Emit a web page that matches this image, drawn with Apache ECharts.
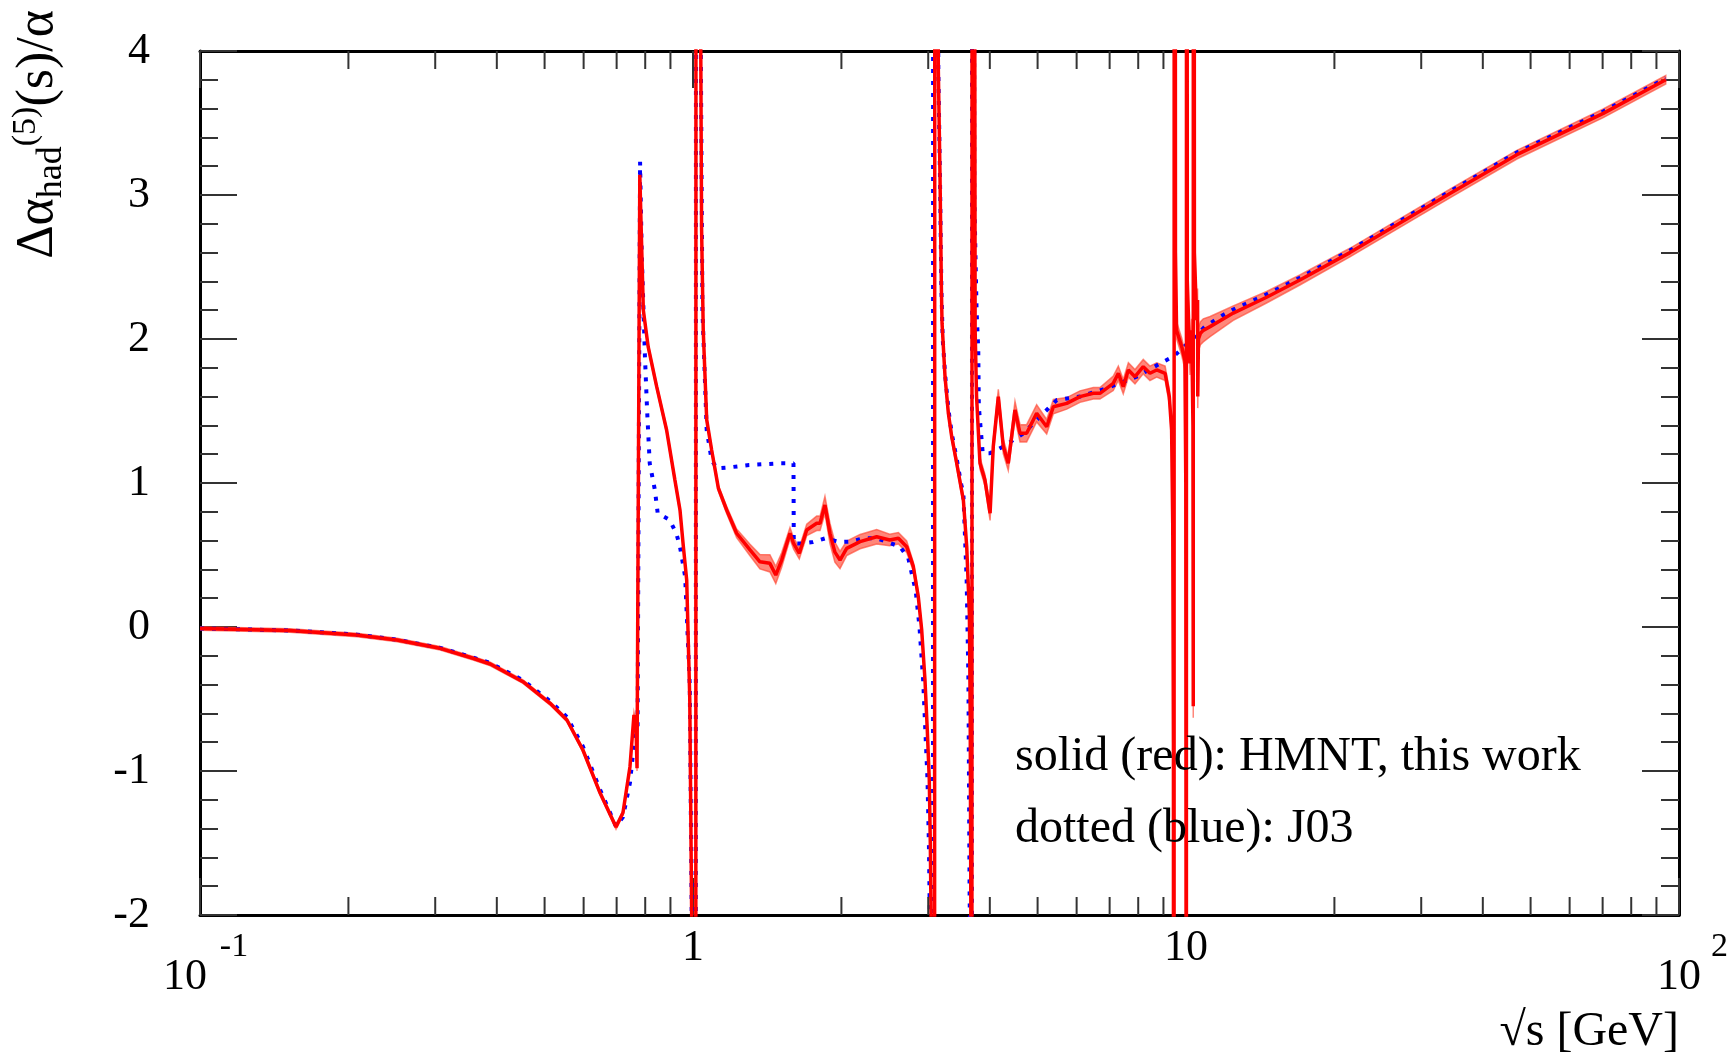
<!DOCTYPE html>
<html>
<head>
<meta charset="utf-8">
<script src="https://cdn.jsdelivr.net/npm/echarts@6/dist/echarts.min.js"></script>
<style>
html,body{margin:0;padding:0;background:#ffffff;}
#chart{width:1733px;height:1054px;}
</style>
</head>
<body>
<div id="chart"></div>
<script>
// ---------------- data ----------------
// HMNT (this work), solid red line with error band
const redX = [0.100,0.152,0.208,0.251,0.307,0.358,0.388,0.452,0.513,0.555,0.598,0.648,0.698,0.721,0.745,0.759,0.766,0.770,0.780,0.786,0.793,0.811,0.844,0.884,0.919,0.941,0.956,0.971,0.985,0.995,1.012,1.015,1.036,1.041,1.049,1.066,1.091,1.126,1.170,1.226,1.305,1.367,1.432,1.472,1.513,1.573,1.600,1.643,1.701,1.782,1.810,1.852,1.896,1.940,1.987,2.050,2.182,2.358,2.506,2.610,2.713,2.799,2.864,2.910,2.955,2.987,3.015,3.030,3.050,3.085,3.098,3.140,3.145,3.170,3.190,3.200,3.245,3.296,3.348,3.427,3.505,3.535,3.591,3.636,3.650,3.665,3.675,3.685,3.728,3.735,3.760,3.820,3.910,4.005,4.065,4.162,4.260,4.360,4.499,4.606,4.751,4.978,5.217,5.382,5.729,6.095,6.486,6.690,7.120,7.290,7.460,7.640,7.880,8.190,8.450,8.720,9.070,9.250,9.350,9.400,9.430,9.450,9.470,9.520,9.570,9.800,9.950,9.990,10.005,10.015,10.025,10.060,10.190,10.270,10.330,10.345,10.352,10.400,10.510,10.555,10.565,10.600,10.700,10.840,11.190,12.470,14.570,17.020,21.500,34.300,46.900,70.200,94.000];
const redY = [-0.010,-0.025,-0.055,-0.090,-0.148,-0.217,-0.257,-0.380,-0.530,-0.646,-0.854,-1.153,-1.389,-1.290,-0.970,-0.610,-0.670,-0.980,3.140,2.700,2.200,1.947,1.669,1.368,1.020,0.813,0.558,0.326,-0.500,-2.200,-20,20,4.300,2.760,2.060,1.440,1.229,0.963,0.813,0.651,0.535,0.453,0.442,0.361,0.465,0.651,0.580,0.512,0.674,0.720,0.720,0.847,0.650,0.520,0.465,0.546,0.593,0.627,0.604,0.616,0.558,0.419,0.210,-0.021,-0.368,-0.715,-1.060,-1.520,-2.500,-20,20,4.500,3.870,3.127,2.360,2.110,1.738,1.484,1.322,1.137,0.951,0.882,0.558,0.095,-0.600,-2.500,-20,20,4.500,2.060,1.600,1.137,1.020,0.790,1.253,1.600,1.253,1.137,1.507,1.345,1.345,1.484,1.391,1.530,1.553,1.600,1.623,1.623,1.692,1.762,1.669,1.785,1.738,1.808,1.762,1.785,1.762,1.600,1.368,0.700,-0.800,-20,20,2.600,2.060,1.947,1.850,1.000,-2.500,-20,20,2.400,1.830,2.060,1.400,-0.550,20,2.600,2.130,2.270,1.600,2.000,2.040,2.060,2.086,2.180,2.290,2.410,2.600,3.010,3.280,3.567,3.800];
const redErr = [0.012,0.012,0.012,0.012,0.012,0.012,0.012,0.012,0.012,0.012,0.015,0.015,0.015,0.015,0.015,0.02,0.02,0.02,0.02,0.02,0.02,0.02,0.02,0.02,0.02,0.02,0.02,0.02,0.02,0.02,0.02,0.02,0.02,0.02,0.02,0.02,0.02,0.02,0.025,0.03,0.04,0.05,0.06,0.06,0.05,0.04,0.04,0.04,0.04,0.05,0.05,0.06,0.07,0.07,0.06,0.05,0.05,0.05,0.04,0.04,0.04,0.03,0.03,0.03,0.03,0.03,0.03,0.03,0.03,0.03,0.03,0.03,0.03,0.03,0.03,0.03,0.03,0.03,0.03,0.03,0.03,0.03,0.03,0.03,0.03,0.03,0.03,0.03,0.04,0.04,0.04,0.04,0.04,0.05,0.05,0.05,0.05,0.05,0.06,0.06,0.06,0.06,0.05,0.05,0.04,0.04,0.04,0.04,0.05,0.05,0.05,0.05,0.05,0.05,0.05,0.05,0.05,0.05,0.05,0.05,0.05,0.05,0.05,0.06,0.06,0.06,0.06,0.06,0.06,0.06,0.06,0.08,0.08,0.08,0.08,0.08,0.08,0.08,0.08,0.08,0.08,0.08,0.08,0.08,0.07,0.05,0.04,0.035,0.03,0.03,0.03,0.03,0.03];

// J03, dotted blue line
const blueX = [0.100,0.152,0.208,0.251,0.307,0.358,0.388,0.452,0.513,0.555,0.598,0.648,0.698,0.721,0.745,0.762,0.772,0.778,0.781,0.787,0.799,0.807,0.817,0.837,0.848,0.897,0.925,0.941,0.964,0.985,0.995,1.012,1.015,1.036,1.045,1.066,1.091,1.117,1.188,1.300,1.505,1.599,1.601,1.658,1.750,1.852,1.987,2.088,2.216,2.358,2.630,2.734,2.830,2.880,2.930,2.960,2.990,3.010,3.030,3.065,3.072,3.140,3.145,3.170,3.190,3.210,3.245,3.300,3.350,3.430,3.500,3.535,3.590,3.620,3.640,3.660,3.675,3.685,3.720,3.760,3.790,3.800,3.870,4.000,4.260,4.680,5.057,5.467,6.095,6.900,7.940,8.990,9.450,10.300,10.930,11.900,12.470,14.570,17.020,21.500,34.300,46.900,70.200,94.000];
const blueY = [-0.010,-0.024,-0.053,-0.088,-0.145,-0.212,-0.250,-0.370,-0.515,-0.625,-0.830,-1.130,-1.385,-1.320,-1.080,-0.760,-0.700,-0.700,3.230,2.600,1.877,1.507,1.137,0.951,0.790,0.743,0.650,0.558,0.350,-0.400,-2.200,-20,20,4.300,2.200,1.368,1.160,1.102,1.109,1.125,1.137,1.137,0.580,0.580,0.590,0.615,0.590,0.593,0.616,0.616,0.558,0.477,0.250,0.000,-0.370,-0.720,-1.060,-1.520,-2.300,-20,20,4.500,3.870,3.100,2.360,2.000,1.760,1.500,1.340,1.160,0.990,0.930,0.326,-0.368,-1.870,-2.500,-20,20,3.000,2.200,1.924,1.530,1.206,1.206,1.253,1.345,1.460,1.576,1.600,1.658,1.738,1.842,1.880,2.000,2.086,2.167,2.205,2.310,2.425,2.615,3.025,3.295,3.580,3.810];

// axes
const xMin = 0.1, xMax = 100;
const yMin = -2, yMax = 4, yStep = 1;
const xMinorTicks = [0.2,0.3,0.4,0.5,0.6,0.7,0.8,0.9,2,3,4,5,6,7,8,9,20,30,40,50,60,70,80,90];

const legendLines = ['solid (red): HMNT, this work', 'dotted (blue): J03'];
const xTitle = '\u221As [GeV]';

// ---------------- chart ----------------
const FONT = '"Liberation Serif", "DejaVu Serif", serif';
const chart = echarts.init(document.getElementById('chart'), null, {renderer: 'canvas'});

const redData = redX.map((x, i) => [x, redY[i]]);
const blueData = blueX.map((x, i) => [x, blueY[i]]);

const frame = {show: true, onZero: false, lineStyle: {color: '#000', width: 3}};
const tickStyle = {color: '#333', width: 2};

function xLabel(v) {
  const e = Math.round(Math.log10(v));
  if (e === 0) return '{p|1}';
  if (e === 1) return '{p|10}';
  return e < 0 ? '{s1|' + e + '}\n{b1|10}' : '{s2|' + e + '}\n{b2|10}';
}

const option = {
  animation: false,
  backgroundColor: '#ffffff',
  textStyle: {fontFamily: FONT},
  grid: {left: 200, top: 51, right: 54, bottom: 139, containLabel: false},
  xAxis: [
    {
      type: 'log', logBase: 10, min: xMin, max: xMax, position: 'bottom',
      axisLine: frame,
      axisTick: {show: true, inside: true, length: 37, lineStyle: tickStyle},
      splitLine: {show: false},
      axisLabel: {
        show: true, margin: 24, fontSize: 44, color: '#000', fontFamily: FONT,
        showMinLabel: true, showMaxLabel: true,
        formatter: xLabel,
        rich: {
          p: {fontSize: 44, lineHeight: 18, fontFamily: FONT, color: '#000'},
          s1: {fontSize: 34, lineHeight: 16, padding: [0, 0, 0, 68], fontFamily: FONT, color: '#000'},
          s2: {fontSize: 34, lineHeight: 16, padding: [0, 0, 0, 81], fontFamily: FONT, color: '#000'},
          b1: {fontSize: 44, lineHeight: 44, padding: [0, 30, 0, 0], fontFamily: FONT, color: '#000'},
          b2: {fontSize: 44, lineHeight: 44, fontFamily: FONT, color: '#000'}
        }
      }
    },
    {
      type: 'log', logBase: 10, min: xMin, max: xMax, position: 'top',
      axisLine: frame,
      axisTick: {show: true, inside: true, length: 37, lineStyle: tickStyle},
      splitLine: {show: false},
      axisLabel: {show: false}
    }
  ],
  yAxis: [
    {
      type: 'value', min: yMin, max: yMax, interval: yStep, position: 'left',
      axisLine: frame,
      axisTick: {show: true, inside: true, length: 37, lineStyle: tickStyle},
      minorTick: {show: true, splitNumber: 5, length: 18, lineStyle: tickStyle},
      splitLine: {show: false},
      axisLabel: {show: true, margin: 50, fontSize: 44, color: '#000', fontFamily: FONT}
    },
    {
      type: 'value', min: yMin, max: yMax, interval: yStep, position: 'right',
      axisLine: frame,
      axisTick: {show: true, inside: true, length: 37, lineStyle: tickStyle},
      minorTick: {show: true, splitNumber: 5, length: 18, lineStyle: tickStyle},
      splitLine: {show: false},
      axisLabel: {show: false}
    }
  ],
  series: [
    {
      name: 'band', type: 'custom', xAxisIndex: 0, yAxisIndex: 0, clip: true, silent: true, z: 1,
      data: [[1, 0]],
      renderItem: function (params, api) {
        const up = [], lo = [];
        for (let i = 0; i < redX.length; i++) {
          up.push(api.coord([redX[i], redY[i] + redErr[i]]));
          lo.push(api.coord([redX[i], redY[i] - redErr[i]]));
        }
        return {type: 'polygon', shape: {points: up.concat(lo.reverse())},
                style: {fill: 'rgba(255,70,50,0.65)', stroke: 'rgba(255,70,50,0.65)', lineWidth: 1.5}};
      }
    },
    {
      name: 'J03', type: 'line', xAxisIndex: 0, yAxisIndex: 0, data: blueData,
      showSymbol: false, symbol: 'none', clip: true, z: 2, silent: true,
      lineStyle: {color: '#0000ff', width: 4, type: [4, 8]}
    },
    {
      name: 'HMNT', type: 'line', xAxisIndex: 0, yAxisIndex: 0, data: redData,
      showSymbol: false, symbol: 'none', clip: true, z: 3, silent: true,
      lineStyle: {color: '#ff0000', width: 3.5}
    },
    {
      name: 'minorTicks', type: 'custom', xAxisIndex: 0, yAxisIndex: 0, clip: false, silent: true, z: 5,
      data: xMinorTicks.map(v => [v, yMin]),
      renderItem: function (params, api) {
        const v = api.value(0);
        const b = api.coord([v, yMin]);
        const t = api.coord([v, yMax]);
        return {type: 'group', children: [
          {type: 'line', shape: {x1: b[0], y1: b[1], x2: b[0], y2: b[1] - 18}, style: {stroke: '#333', lineWidth: 2}},
          {type: 'line', shape: {x1: t[0], y1: t[1], x2: t[0], y2: t[1] + 18}, style: {stroke: '#333', lineWidth: 2}}
        ]};
      }
    }
  ],
  graphic: [
    {
      type: 'text', x: 76, y: 10, rotation: Math.PI / 2, z: 10,
      style: {
        text: '{a|\u0394\u03B1}{sub|had}{sup|(5)}{a|(s)/\u03B1}',
        align: 'right', verticalAlign: 'bottom', fill: '#000',
        fontFamily: FONT, fontSize: 52,
        rich: {
          a: {fontSize: 52, lineHeight: 52, verticalAlign: 'bottom', padding: [0, 0, 12, 0], fontFamily: FONT, fill: '#000'},
          sub: {fontSize: 36, lineHeight: 36, verticalAlign: 'bottom', padding: [0, 0, 6, 0], fontFamily: FONT, fill: '#000'},
          sup: {fontSize: 34, lineHeight: 34, verticalAlign: 'bottom', padding: [0, 0, 33, 0], fontFamily: FONT, fill: '#000'}
        }
      }
    },
    {
      type: 'text', x: 1679, y: 1032, z: 10,
      style: {text: xTitle, align: 'right', verticalAlign: 'middle', fill: '#000', fontFamily: FONT, fontSize: 48}
    },
    {
      type: 'text', x: 1015, y: 757, z: 10,
      style: {text: legendLines[0], align: 'left', verticalAlign: 'middle', fill: '#000', fontFamily: FONT, fontSize: 48}
    },
    {
      type: 'text', x: 1015, y: 829, z: 10,
      style: {text: legendLines[1], align: 'left', verticalAlign: 'middle', fill: '#000', fontFamily: FONT, fontSize: 48}
    }
  ]
};
chart.setOption(option);
</script>
</body>
</html>
